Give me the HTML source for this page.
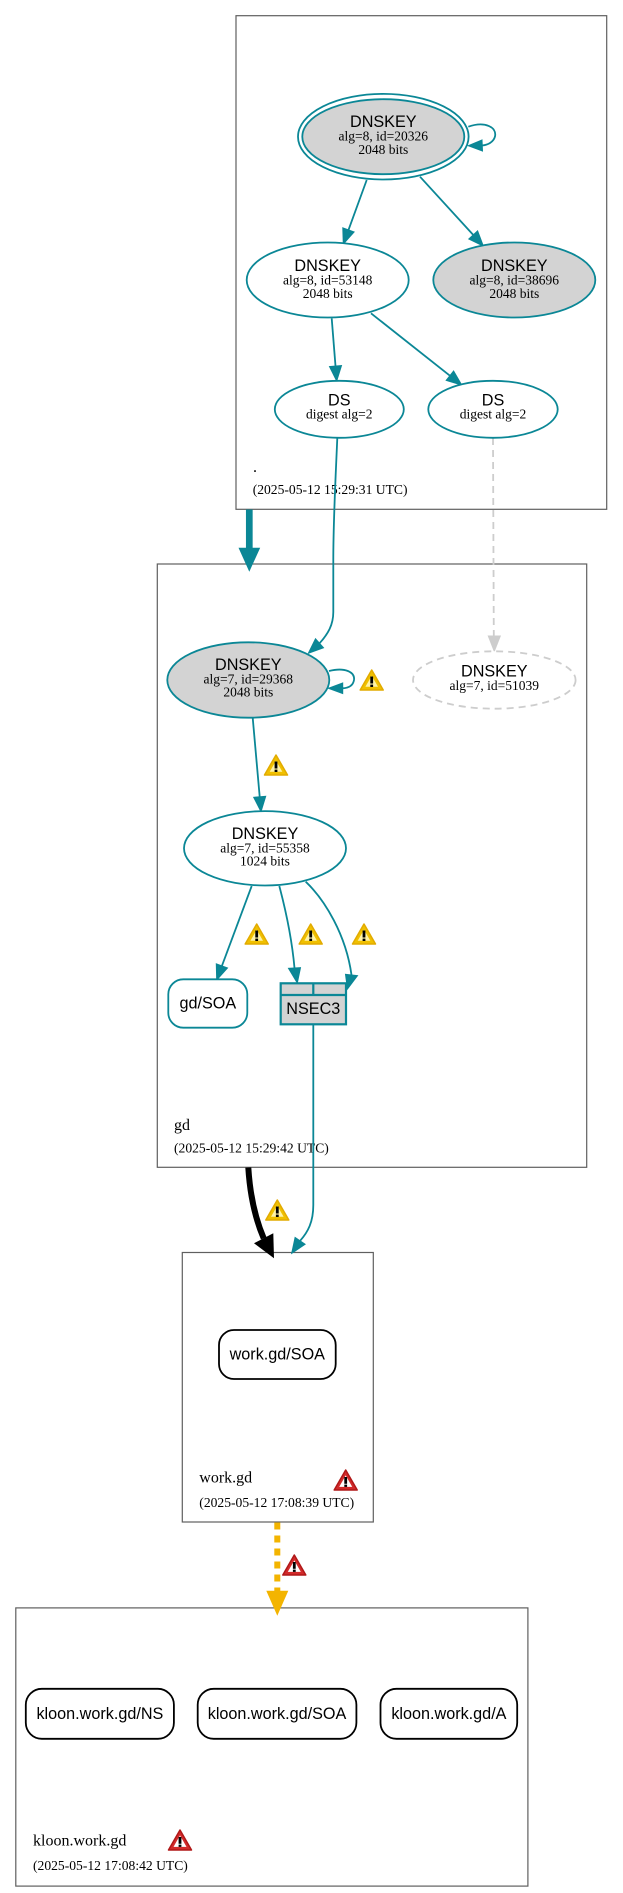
<!DOCTYPE html>
<html>
<head>
<meta charset="utf-8">
<style>
html,body{margin:0;padding:0;background:#fff;}
svg{display:block;}
.s{font-family:"Liberation Sans",Arial,sans-serif;font-size:16.2px;fill:#000;text-anchor:middle;}
.t{font-family:"Liberation Serif","Times New Roman",serif;font-size:13.5px;fill:#000;text-anchor:middle;}
.cl{font-family:"Liberation Serif","Times New Roman",serif;font-size:16px;fill:#000;}
.ts{font-family:"Liberation Serif","Times New Roman",serif;font-size:13.6px;fill:#000;}
</style>
</head>
<body>
<svg width="623" height="1893" viewBox="0 0 623 1893" xmlns="http://www.w3.org/2000/svg">
<defs>
  <g id="warnY">
    <path d="M-11.5,10 L0,-10 L11.5,10 Z" fill="#f0c000" stroke="#e2ab00" stroke-width="1.5" stroke-linejoin="round"/>
    <path d="M-6.3,6.8 L0,-4.3 L6.3,6.8 Z" fill="#fff3a8"/>
    <rect x="-1.4" y="-3.5" width="2.8" height="7" fill="#000"/>
    <rect x="-1.4" y="4.6" width="2.8" height="2.4" fill="#000"/>
  </g>
  <g id="warnR">
    <path d="M-11.5,10 L0,-10 L11.5,10 Z" fill="#d22a2a" stroke="#b01818" stroke-width="1.5" stroke-linejoin="round"/>
    <path d="M-6.5,6.9 L0,-4.6 L6.5,6.9 Z" fill="#fff"/>
    <rect x="-1.4" y="-3" width="2.8" height="6.8" fill="#000"/>
    <rect x="-1.4" y="4.6" width="2.8" height="2.3" fill="#000"/>
  </g>
</defs>

<!-- Clusters -->
<rect x="236" y="15.7" width="370.7" height="493.6" fill="none" stroke="#5f5f5f" stroke-width="1.2"/>
<rect x="157.3" y="564" width="429.4" height="603.3" fill="none" stroke="#5f5f5f" stroke-width="1.2"/>
<rect x="182.3" y="1252.5" width="191" height="269.5" fill="none" stroke="#5f5f5f" stroke-width="1.2"/>
<rect x="15.8" y="1607.9" width="512.1" height="278.2" fill="none" stroke="#5f5f5f" stroke-width="1.2"/>

<!-- Cluster labels -->
<text class="cl" x="253" y="472">.</text>
<text class="ts" x="252.7" y="494">(2025-05-12 15:29:31 UTC)</text>
<text class="cl" x="174" y="1130">gd</text>
<text class="ts" x="174" y="1152.7">(2025-05-12 15:29:42 UTC)</text>
<text class="cl" x="199.3" y="1482.7">work.gd</text>
<text class="ts" x="199.3" y="1507">(2025-05-12 17:08:39 UTC)</text>
<text class="cl" x="33" y="1845.5">kloon.work.gd</text>
<text class="ts" x="33" y="1870">(2025-05-12 17:08:42 UTC)</text>

<!-- Edges (teal) -->
<g stroke="#0b8796" stroke-width="1.8" fill="none">
  <path d="M366.7,180 L348.5,229.9"/>
  <path d="M420,176.7 L473.2,234.9"/>
  <path d="M331.7,318.3 L335.5,366"/>
  <path d="M371,313.3 L449.9,375.7"/>
  <path d="M337.3,438 C335.5,480 333.3,520 333.3,560 L333.3,612 C333.3,625 328,634 319.5,643.3"/>
  <path d="M468.3,126.7 C485,121 497,127 495,136.5 C493.5,142 488,145 482,145.5"/>
  <path d="M329,671 C345,667 355,672 354,680 C353,686 348,688 342.7,688.3"/>
  <path d="M252.7,717.7 L259.7,796.8"/>
  <path d="M251.7,886 L221.9,965.9"/>
  <path d="M279.3,886 C287,915 292,940 294.5,968"/>
  <path d="M305.7,881.7 C325,900 346,935 351.5,975"/>
  <path d="M313.3,1024.5 L313.3,1205 C313.3,1222 308,1232 300.1,1240.8"/>
</g>
<g fill="#0b8796" stroke="#0b8796" stroke-width="1">
  <polygon points="343.3,244 354.1,232 342.8,227.8"/>
  <polygon points="483.3,246 468.8,239 477.6,230.9"/>
  <polygon points="336.7,381 329.5,366.5 341.5,365.5"/>
  <polygon points="461.7,385 446.2,380.4 453.6,371"/>
  <polygon points="308.3,653.3 323.5,647.8 315.5,638.8"/>
  <polygon points="468.3,145.7 482,140 482.5,151"/>
  <polygon points="328.3,688.3 342.7,683 342.7,693.5"/>
  <polygon points="261,811.7 253.7,797.3 265.7,796.3"/>
  <polygon points="216.7,980 216.3,963.8 227.5,968"/>
  <polygon points="297.3,983 288.5,968.3 300.5,967.7"/>
  <polygon points="347.5,989 345.5,974.3 357.5,975.7"/>
  <polygon points="291.7,1253.3 305.1,1244.2 295.1,1237.4"/>
</g>

<!-- Dashed gray DS -> DNSKEY 51039 -->
<path d="M493,438 L493.8,636" stroke="#cdcdcd" stroke-width="1.8" stroke-dasharray="7,5" fill="none"/>
<polygon points="494.3,651.3 488.3,636 500.3,636" fill="#cdcdcd" stroke="#cdcdcd"/>

<!-- Thick teal cluster edge -->
<path d="M249.3,509.5 L249.3,549" stroke="#0b8796" stroke-width="6.7" fill="none"/>
<polygon points="238.5,547.7 260.2,547.7 249.3,571.7" fill="#0b8796"/>

<!-- Thick black cluster edge -->
<path d="M248.3,1167.5 C250,1195 255,1218 263.7,1238.3" stroke="#000" stroke-width="6" fill="none"/>
<polygon points="274,1258.3 254,1243.3 273.3,1233.3" fill="#000"/>

<!-- Yellow dotted edge -->
<path d="M277.3,1522.5 L277.3,1591" stroke="#f3b400" stroke-width="6" stroke-dasharray="7,6" fill="none"/>
<polygon points="266.3,1590.7 288.3,1590.7 277.3,1615.8" fill="#f3b400"/>

<!-- Nodes -->
<ellipse cx="383.3" cy="136.7" rx="85.3" ry="42.8" fill="none" stroke="#0b8796" stroke-width="1.8"/>
<ellipse cx="383.3" cy="136.7" rx="81" ry="37.5" fill="#d3d3d3" stroke="#0b8796" stroke-width="1.8"/>
<text class="s" x="383.3" y="127">DNSKEY</text>
<text class="t" x="383.3" y="140.7">alg=8, id=20326</text>
<text class="t" x="383.3" y="154.2">2048 bits</text>

<ellipse cx="327.7" cy="280" rx="81" ry="37.5" fill="#fff" stroke="#0b8796" stroke-width="1.8"/>
<text class="s" x="327.7" y="271">DNSKEY</text>
<text class="t" x="327.7" y="284.5">alg=8, id=53148</text>
<text class="t" x="327.7" y="298">2048 bits</text>

<ellipse cx="514.3" cy="280" rx="81" ry="37.5" fill="#d3d3d3" stroke="#0b8796" stroke-width="1.8"/>
<text class="s" x="514.3" y="271">DNSKEY</text>
<text class="t" x="514.3" y="284.5">alg=8, id=38696</text>
<text class="t" x="514.3" y="298">2048 bits</text>

<ellipse cx="339.3" cy="409.3" rx="64.5" ry="28.5" fill="#fff" stroke="#0b8796" stroke-width="1.8"/>
<text class="s" x="339.3" y="405.7">DS</text>
<text class="t" x="339.3" y="418.5">digest alg=2</text>

<ellipse cx="493" cy="409.3" rx="64.7" ry="28.5" fill="#fff" stroke="#0b8796" stroke-width="1.8"/>
<text class="s" x="493" y="405.7">DS</text>
<text class="t" x="493" y="418.5">digest alg=2</text>

<ellipse cx="248.3" cy="680" rx="81" ry="37.7" fill="#d3d3d3" stroke="#0b8796" stroke-width="1.8"/>
<text class="s" x="248.3" y="670">DNSKEY</text>
<text class="t" x="248.3" y="683.3">alg=7, id=29368</text>
<text class="t" x="248.3" y="696.5">2048 bits</text>

<ellipse cx="494.3" cy="680" rx="81.3" ry="28.7" fill="#fff" stroke="#cdcdcd" stroke-width="1.8" stroke-dasharray="7,5"/>
<text class="s" x="494.3" y="676.7">DNSKEY</text>
<text class="t" x="494.3" y="690">alg=7, id=51039</text>

<ellipse cx="265" cy="848.3" rx="81" ry="37.2" fill="#fff" stroke="#0b8796" stroke-width="1.8"/>
<text class="s" x="265" y="839">DNSKEY</text>
<text class="t" x="265" y="852.3">alg=7, id=55358</text>
<text class="t" x="265" y="865.5">1024 bits</text>

<rect x="168.3" y="979.3" width="79" height="48.4" rx="15" ry="15" fill="#fff" stroke="#0b8796" stroke-width="1.8"/>
<text class="s" x="207.8" y="1008.5">gd/SOA</text>

<rect x="280.7" y="983.3" width="65.3" height="41" fill="#d3d3d3" stroke="#0b8796" stroke-width="2.2"/>
<line x1="280.7" y1="995" x2="346" y2="995" stroke="#0b8796" stroke-width="2.2"/>
<line x1="313.3" y1="983.3" x2="313.3" y2="995" stroke="#0b8796" stroke-width="2.2"/>
<text class="s" x="313.3" y="1014">NSEC3</text>

<rect x="219" y="1330" width="116.7" height="49" rx="15" ry="15" fill="#fff" stroke="#000" stroke-width="1.8"/>
<text class="s" x="277.3" y="1359.5">work.gd/SOA</text>

<rect x="25.8" y="1688.8" width="148.1" height="50" rx="16" ry="16" fill="#fff" stroke="#000" stroke-width="1.8"/>
<text class="s" x="99.9" y="1719">kloon.work.gd/NS</text>
<rect x="197.7" y="1688.8" width="158.7" height="50" rx="16" ry="16" fill="#fff" stroke="#000" stroke-width="1.8"/>
<text class="s" x="277" y="1719">kloon.work.gd/SOA</text>
<rect x="380.5" y="1688.8" width="136.7" height="50" rx="16" ry="16" fill="#fff" stroke="#000" stroke-width="1.8"/>
<text class="s" x="448.9" y="1719">kloon.work.gd/A</text>

<!-- Warning icons -->
<use href="#warnY" x="371.7" y="680"/>
<use href="#warnY" x="276" y="765"/>
<use href="#warnY" x="256.7" y="934"/>
<use href="#warnY" x="310.7" y="934"/>
<use href="#warnY" x="364" y="934"/>
<use href="#warnY" x="277.3" y="1210"/>
<use href="#warnR" x="345.7" y="1480"/>
<use href="#warnR" x="294.3" y="1565"/>
<use href="#warnR" x="180" y="1840"/>
</svg>
</body>
</html>
